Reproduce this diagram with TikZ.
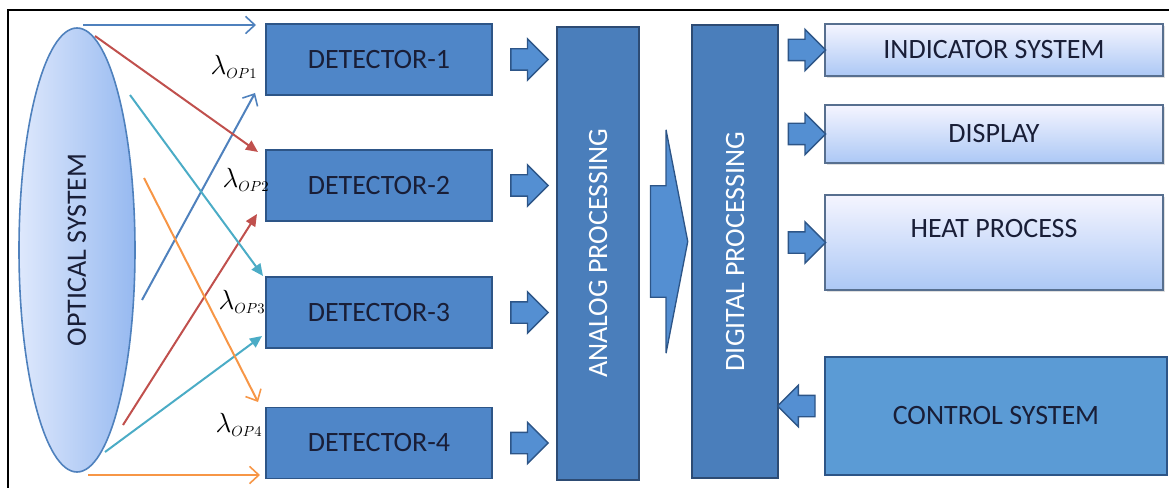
\documentclass[tikz,border=0pt]{standalone}
\usepackage{fontspec}
\setmainfont{Carlito}
\usepackage{graphicx}
\usetikzlibrary{shapes.geometric,shapes.arrows,arrows.meta,calc,shadows}

\definecolor{detfill}{RGB}{79,134,200}
\definecolor{detline}{RGB}{45,85,135}
\definecolor{procfill}{RGB}{74,126,187}
\definecolor{procline}{RGB}{45,75,115}
\definecolor{arrfill}{RGB}{84,143,210}
\definecolor{ctlfill}{RGB}{91,155,213}
\definecolor{txtdark}{RGB}{25,30,55}
\definecolor{rayblue}{RGB}{79,129,189}
\definecolor{rayred}{RGB}{192,80,77}
\definecolor{rayteal}{RGB}{75,172,198}
\definecolor{rayorange}{RGB}{247,150,70}

\begin{document}
\begin{tikzpicture}[x=0.75pt,y=0.75pt,yscale=-1,xscale=1,
  bigfont/.style={font=\fontsize{21}{25}\selectfont},
  detbox/.style={draw=detline,fill=detfill,line width=1pt,minimum width=169.5pt,minimum height=53.25pt,inner sep=0pt,bigfont,text=txtdark},
  procbox/.style={draw=procline,fill=procfill,line width=1.5pt,minimum width=62pt,minimum height=339.75pt,inner sep=0pt,bigfont,text=white},
  outbox/.style={draw=procline!80,top color=blue!4,bottom color={rgb,255:red,172;green,200;blue,245},line width=1pt,minimum width=253.5pt,inner sep=0pt,bigfont,text=txtdark,drop shadow={shadow xshift=1.5pt,shadow yshift=-1.5pt,opacity=0.25}},
  blkarrow/.style={single arrow,draw=detline,fill=arrfill,line width=1pt,inner xsep=0pt,inner ysep=7.5pt,minimum height=28pt,minimum width=30pt,single arrow head extend=7.5pt,single arrow tip angle=90},
  lam/.style={font=\fontsize{22}{24}\selectfont,inner sep=0pt},
  ray/.style={line width=1.5pt},
  open/.style={-{Straight Barb[length=7pt,width=13pt,line width=1.2pt]}},
  solid tip/.style={-{Triangle[length=9pt,width=8pt]}}]
\useasboundingbox (0,0) rectangle (1169,488);

%frame
\draw[line width=2pt] (8,488) -- (8,10) -- (1169,10);

%Shape: Ellipse
\node[ellipse,draw=rayblue,line width=1.2pt,left color={rgb,255:red,222;green,232;blue,252},right color={rgb,255:red,150;green,185;blue,240},minimum width=87pt,minimum height=333pt,inner sep=0pt,bigfont,text=txtdark] (opt) at (77,250) {\rotatebox{90}{OPTICAL SYSTEM}};

% Detectors
\node[detbox] (d1) at (379,59.5) {DETECTOR-1};
\node[detbox] (d2) at (379,185.5) {DETECTOR-2};
\node[detbox] (d3) at (379,312.5) {DETECTOR-3};
\node[detbox] (d4) at (379,443) {DETECTOR-4};

% Processing
\node[procbox] (ana) at (598,253.5) {\rotatebox{90}{ANALOG PROCESSING}};
\node[procbox,minimum width=64.5pt] (dig) at (735,251.5) {\rotatebox{90}{DIGITAL PROCESSING}};

% Outputs
\node[outbox,minimum height=39pt] (ind) at (994,50) {INDICATOR SYSTEM};
\node[outbox,minimum height=43.5pt] (disp) at (994,134) {DISPLAY};
\node[outbox,minimum height=71.25pt,text height=15pt,text depth=23pt] (heat) at (994,242.5) {HEAT PROCESS};
\node[detbox,fill=ctlfill,minimum width=256.5pt,minimum height=88.5pt] (ctl) at (996,416) {CONTROL SYSTEM};

% Text Node
\node[lam] (l1) at (234,67) {$\lambda_{\scriptscriptstyle OP1}$};
% Text Node
\node[lam] (l2) at (246,180) {$\lambda_{\scriptscriptstyle OP2}$};
% Text Node
\node[lam] (l3) at (242,302) {$\lambda_{\scriptscriptstyle OP3}$};
% Text Node
\node[lam] (l4) at (239,425) {$\lambda_{\scriptscriptstyle OP4}$};

% Rays
\coordinate (s1) at (83,25);   \coordinate (t1) at (256,25);
\coordinate (s2) at (142,300); \coordinate (t2) at (255,93);
\coordinate (s3) at (95,36);   \coordinate (t3) at (258,152);
\coordinate (s4) at (123,425); \coordinate (t4) at (257,214);
\coordinate (s5) at (130,95);  \coordinate (t5) at (263,276);
\coordinate (s6) at (105,452); \coordinate (t6) at (262,336);
\coordinate (s7) at (144,178); \coordinate (t7) at (258,402);
\coordinate (s8) at (88,475);  \coordinate (t8) at (260,475);
\draw[ray,rayblue,open] (s1) -- (t1);
\draw[ray,rayblue,open] (s2) -- (t2);
\draw[ray,rayred,solid tip] (s3) -- (t3);
\draw[ray,rayred,solid tip] (s4) -- (t4);
\draw[ray,rayteal,solid tip] (s5) -- (t5);
\draw[ray,rayteal,solid tip] (s6) -- (t6);
\draw[ray,rayorange,open] (s7) -- (t7);
\draw[ray,rayorange,open] (s8) -- (t8);

% Block arrows
\foreach \n in {d1,d2,d3,d4}
  \node[blkarrow] (a-\n) at ($(\n.east)!0.5!(\n.east -| ana.west)$) {};
\node[blkarrow,inner ysep=41.25pt,minimum width=166.5pt,single arrow head extend=42pt,single arrow tip angle=158] (a-ad) at ($(ana.east)!0.5!(dig.west)+(-2,-11)$) {};
\foreach \n in {ind,disp,heat}
  \node[blkarrow] (a-\n) at ($(\n.west -| dig.east)!0.5!(\n.west)$) {};
\node[blkarrow,shape border rotate=180] (a-ctl) at ($(ctl.west -| dig.east)!0.5!(ctl.west)+(0,-10)$) {};

\end{tikzpicture}
\end{document}
